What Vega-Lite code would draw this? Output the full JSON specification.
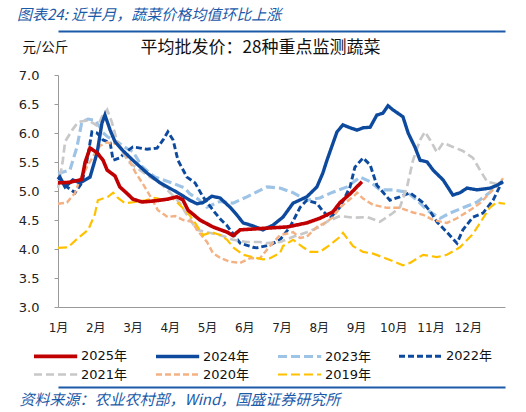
{
  "$schema": "https://vega.github.io/schema/vega-lite/v6.json",
  "width": 447,
  "height": 232,
  "autosize": "none",
  "padding": {"left": 58, "top": 75, "right": 21, "bottom": 105},
  "background": "white",
  "config": {
    "view": {"stroke": null},
    "font": "DejaVu Sans, Noto Sans CJK SC"
  },
  "title": {
    "text": "图表24: 近半月，蔬菜价格均值环比上涨",
    "anchor": "start",
    "frame": "group",
    "dx": -41,
    "offset": 8,
    "font": "Noto Sans CJK SC",
    "fontSize": 15,
    "fontStyle": "italic",
    "fontWeight": "normal",
    "color": "#1c5aa8"
  },
  "data": {"values": [
    {"year": "2025年", "m": 0, "v": 5.14}, {"year": "2025年", "m": 0.32, "v": 5.15}, {"year": "2025年", "m": 0.64, "v": 5.2},
    {"year": "2025年", "m": 0.73, "v": 5.5}, {"year": "2025年", "m": 0.86, "v": 5.74}, {"year": "2025年", "m": 1.05, "v": 5.66},
    {"year": "2025年", "m": 1.21, "v": 5.53}, {"year": "2025年", "m": 1.32, "v": 5.36}, {"year": "2025年", "m": 1.53, "v": 5.26},
    {"year": "2025年", "m": 1.66, "v": 5.07}, {"year": "2025年", "m": 1.85, "v": 4.96}, {"year": "2025年", "m": 2.01, "v": 4.86},
    {"year": "2025年", "m": 2.26, "v": 4.81}, {"year": "2025年", "m": 2.6, "v": 4.83}, {"year": "2025年", "m": 2.95, "v": 4.86},
    {"year": "2025年", "m": 3.19, "v": 4.9}, {"year": "2025年", "m": 3.35, "v": 4.85}, {"year": "2025年", "m": 3.49, "v": 4.67},
    {"year": "2025年", "m": 3.81, "v": 4.5}, {"year": "2025年", "m": 4.16, "v": 4.38}, {"year": "2025年", "m": 4.54, "v": 4.29},
    {"year": "2025年", "m": 4.7, "v": 4.23}, {"year": "2025年", "m": 4.89, "v": 4.33}, {"year": "2025年", "m": 5.61, "v": 4.36},
    {"year": "2025年", "m": 6.15, "v": 4.38}, {"year": "2025年", "m": 6.68, "v": 4.45}, {"year": "2025年", "m": 7.03, "v": 4.53},
    {"year": "2025年", "m": 7.38, "v": 4.64}, {"year": "2025年", "m": 7.57, "v": 4.8}, {"year": "2025年", "m": 7.84, "v": 4.95},
    {"year": "2025年", "m": 8.16, "v": 5.16},

    {"year": "2024年", "m": 0, "v": 5.2}, {"year": "2024年", "m": 0.05, "v": 5.24}, {"year": "2024年", "m": 0.19, "v": 5.07},
    {"year": "2024年", "m": 0.4, "v": 5.19}, {"year": "2024年", "m": 0.59, "v": 5.14}, {"year": "2024年", "m": 0.86, "v": 5.24},
    {"year": "2024年", "m": 1.05, "v": 5.66}, {"year": "2024年", "m": 1.18, "v": 6.17}, {"year": "2024年", "m": 1.26, "v": 6.31},
    {"year": "2024年", "m": 1.4, "v": 6.05}, {"year": "2024年", "m": 1.53, "v": 5.85}, {"year": "2024年", "m": 1.72, "v": 5.71},
    {"year": "2024年", "m": 2.01, "v": 5.53}, {"year": "2024年", "m": 2.39, "v": 5.31}, {"year": "2024年", "m": 2.74, "v": 5.14},
    {"year": "2024年", "m": 3.19, "v": 4.98}, {"year": "2024年", "m": 3.54, "v": 4.84}, {"year": "2024年", "m": 3.73, "v": 4.78},
    {"year": "2024年", "m": 3.89, "v": 4.8}, {"year": "2024年", "m": 4.13, "v": 4.91}, {"year": "2024年", "m": 4.35, "v": 4.88},
    {"year": "2024年", "m": 4.62, "v": 4.72}, {"year": "2024年", "m": 4.81, "v": 4.58}, {"year": "2024年", "m": 4.97, "v": 4.45},
    {"year": "2024年", "m": 5.23, "v": 4.4}, {"year": "2024年", "m": 5.5, "v": 4.33}, {"year": "2024年", "m": 5.77, "v": 4.41},
    {"year": "2024年", "m": 6.04, "v": 4.55}, {"year": "2024年", "m": 6.31, "v": 4.79}, {"year": "2024年", "m": 6.68, "v": 4.9},
    {"year": "2024年", "m": 6.95, "v": 5.07}, {"year": "2024年", "m": 7.11, "v": 5.31}, {"year": "2024年", "m": 7.22, "v": 5.53},
    {"year": "2024年", "m": 7.49, "v": 6.02}, {"year": "2024年", "m": 7.65, "v": 6.14}, {"year": "2024年", "m": 7.84, "v": 6.09},
    {"year": "2024年", "m": 8.03, "v": 6.05}, {"year": "2024年", "m": 8.19, "v": 6.09}, {"year": "2024年", "m": 8.38, "v": 6.1},
    {"year": "2024年", "m": 8.56, "v": 6.31}, {"year": "2024年", "m": 8.72, "v": 6.34}, {"year": "2024年", "m": 8.86, "v": 6.47},
    {"year": "2024年", "m": 8.99, "v": 6.4}, {"year": "2024年", "m": 9.26, "v": 6.28}, {"year": "2024年", "m": 9.4, "v": 6.0},
    {"year": "2024年", "m": 9.58, "v": 5.76}, {"year": "2024年", "m": 9.72, "v": 5.53}, {"year": "2024年", "m": 9.91, "v": 5.5},
    {"year": "2024年", "m": 10.07, "v": 5.36}, {"year": "2024年", "m": 10.34, "v": 5.19}, {"year": "2024年", "m": 10.6, "v": 4.93},
    {"year": "2024年", "m": 10.79, "v": 4.97}, {"year": "2024年", "m": 10.98, "v": 5.05}, {"year": "2024年", "m": 11.25, "v": 5.02},
    {"year": "2024年", "m": 11.6, "v": 5.05}, {"year": "2024年", "m": 11.79, "v": 5.1}, {"year": "2024年", "m": 11.95, "v": 5.16},

    {"year": "2023年", "m": 0, "v": 5.3}, {"year": "2023年", "m": 0.32, "v": 5.36}, {"year": "2023年", "m": 0.51, "v": 5.76},
    {"year": "2023年", "m": 0.64, "v": 6.19}, {"year": "2023年", "m": 0.81, "v": 6.24}, {"year": "2023年", "m": 0.99, "v": 6.22},
    {"year": "2023年", "m": 1.13, "v": 6.1}, {"year": "2023年", "m": 1.18, "v": 6.02}, {"year": "2023年", "m": 1.34, "v": 5.93},
    {"year": "2023年", "m": 1.61, "v": 5.84}, {"year": "2023年", "m": 1.88, "v": 5.72}, {"year": "2023年", "m": 2.01, "v": 5.68},
    {"year": "2023年", "m": 2.26, "v": 5.42}, {"year": "2023年", "m": 2.6, "v": 5.24}, {"year": "2023年", "m": 3.06, "v": 5.14},
    {"year": "2023年", "m": 3.41, "v": 5.05}, {"year": "2023年", "m": 3.54, "v": 4.95}, {"year": "2023年", "m": 3.76, "v": 4.86},
    {"year": "2023年", "m": 4.0, "v": 4.72}, {"year": "2023年", "m": 4.35, "v": 4.82}, {"year": "2023年", "m": 4.7, "v": 4.79},
    {"year": "2023年", "m": 5.07, "v": 4.9}, {"year": "2023年", "m": 5.61, "v": 5.07}, {"year": "2023年", "m": 5.96, "v": 5.05},
    {"year": "2023年", "m": 6.31, "v": 4.97}, {"year": "2023年", "m": 6.68, "v": 4.84}, {"year": "2023年", "m": 7.03, "v": 4.88},
    {"year": "2023年", "m": 7.38, "v": 4.98}, {"year": "2023年", "m": 7.76, "v": 5.07}, {"year": "2023年", "m": 8.11, "v": 5.24},
    {"year": "2023年", "m": 8.38, "v": 5.16}, {"year": "2023年", "m": 8.64, "v": 5.02}, {"year": "2023年", "m": 8.99, "v": 5.02},
    {"year": "2023年", "m": 9.37, "v": 4.98}, {"year": "2023年", "m": 9.64, "v": 4.84}, {"year": "2023年", "m": 9.91, "v": 4.67},
    {"year": "2023年", "m": 10.26, "v": 4.53}, {"year": "2023年", "m": 10.52, "v": 4.62}, {"year": "2023年", "m": 10.87, "v": 4.71},
    {"year": "2023年", "m": 11.25, "v": 4.81}, {"year": "2023年", "m": 11.6, "v": 4.98}, {"year": "2023年", "m": 11.95, "v": 5.19},

    {"year": "2022年", "m": 0, "v": 5.2}, {"year": "2022年", "m": 0.05, "v": 5.19}, {"year": "2022年", "m": 0.24, "v": 5.07},
    {"year": "2022年", "m": 0.46, "v": 4.97}, {"year": "2022年", "m": 0.64, "v": 5.14}, {"year": "2022年", "m": 0.78, "v": 5.53},
    {"year": "2022年", "m": 0.91, "v": 6.02}, {"year": "2022年", "m": 1.05, "v": 6.0}, {"year": "2022年", "m": 1.21, "v": 5.88},
    {"year": "2022年", "m": 1.4, "v": 5.83}, {"year": "2022年", "m": 1.48, "v": 5.53}, {"year": "2022年", "m": 1.66, "v": 5.57},
    {"year": "2022年", "m": 1.8, "v": 5.66}, {"year": "2022年", "m": 2.01, "v": 5.76}, {"year": "2022年", "m": 2.39, "v": 5.72},
    {"year": "2022年", "m": 2.66, "v": 5.74}, {"year": "2022年", "m": 2.82, "v": 5.88}, {"year": "2022年", "m": 2.95, "v": 6.02},
    {"year": "2022年", "m": 3.09, "v": 5.88}, {"year": "2022年", "m": 3.22, "v": 5.53}, {"year": "2022年", "m": 3.46, "v": 5.24},
    {"year": "2022年", "m": 3.68, "v": 5.14}, {"year": "2022年", "m": 3.89, "v": 4.9}, {"year": "2022年", "m": 4.16, "v": 4.67},
    {"year": "2022年", "m": 4.35, "v": 4.52}, {"year": "2022年", "m": 4.54, "v": 4.4}, {"year": "2022年", "m": 4.89, "v": 4.1},
    {"year": "2022年", "m": 5.23, "v": 4.03}, {"year": "2022年", "m": 5.34, "v": 4.02}, {"year": "2022年", "m": 5.69, "v": 4.07},
    {"year": "2022年", "m": 5.96, "v": 4.16}, {"year": "2022年", "m": 6.23, "v": 4.38}, {"year": "2022年", "m": 6.5, "v": 4.72},
    {"year": "2022年", "m": 6.68, "v": 4.84}, {"year": "2022年", "m": 6.95, "v": 4.79}, {"year": "2022年", "m": 7.09, "v": 4.67},
    {"year": "2022年", "m": 7.3, "v": 4.53}, {"year": "2022年", "m": 7.57, "v": 4.72}, {"year": "2022年", "m": 7.84, "v": 5.07},
    {"year": "2022年", "m": 7.97, "v": 5.41}, {"year": "2022年", "m": 8.19, "v": 5.57}, {"year": "2022年", "m": 8.38, "v": 5.45},
    {"year": "2022年", "m": 8.56, "v": 5.1}, {"year": "2022年", "m": 8.91, "v": 4.84}, {"year": "2022年", "m": 9.18, "v": 4.9},
    {"year": "2022年", "m": 9.45, "v": 4.97}, {"year": "2022年", "m": 9.8, "v": 4.8}, {"year": "2022年", "m": 9.99, "v": 4.65},
    {"year": "2022年", "m": 10.17, "v": 4.47}, {"year": "2022年", "m": 10.44, "v": 4.29}, {"year": "2022年", "m": 10.71, "v": 4.1},
    {"year": "2022年", "m": 10.87, "v": 4.33}, {"year": "2022年", "m": 11.14, "v": 4.55}, {"year": "2022年", "m": 11.41, "v": 4.62},
    {"year": "2022年", "m": 11.68, "v": 4.84}, {"year": "2022年", "m": 11.92, "v": 5.16},

    {"year": "2021年", "m": 0, "v": 5.05}, {"year": "2021年", "m": 0.13, "v": 5.53}, {"year": "2021年", "m": 0.19, "v": 5.85},
    {"year": "2021年", "m": 0.38, "v": 6.05}, {"year": "2021年", "m": 0.54, "v": 6.19}, {"year": "2021年", "m": 0.81, "v": 6.22},
    {"year": "2021年", "m": 1.07, "v": 6.12}, {"year": "2021年", "m": 1.18, "v": 6.28}, {"year": "2021年", "m": 1.32, "v": 6.4},
    {"year": "2021年", "m": 1.45, "v": 6.18}, {"year": "2021年", "m": 1.58, "v": 5.87}, {"year": "2021年", "m": 1.74, "v": 5.66},
    {"year": "2021年", "m": 1.93, "v": 5.48}, {"year": "2021年", "m": 2.2, "v": 5.36}, {"year": "2021年", "m": 2.47, "v": 5.24},
    {"year": "2021年", "m": 2.74, "v": 5.14}, {"year": "2021年", "m": 3.01, "v": 4.97}, {"year": "2021年", "m": 3.28, "v": 4.79},
    {"year": "2021年", "m": 3.41, "v": 4.64}, {"year": "2021年", "m": 3.73, "v": 4.33}, {"year": "2021年", "m": 4.0, "v": 4.29},
    {"year": "2021年", "m": 4.35, "v": 4.24}, {"year": "2021年", "m": 4.7, "v": 4.16}, {"year": "2021年", "m": 5.07, "v": 4.12},
    {"year": "2021年", "m": 5.42, "v": 4.12}, {"year": "2021年", "m": 5.61, "v": 4.1}, {"year": "2021年", "m": 5.96, "v": 4.12},
    {"year": "2021年", "m": 6.31, "v": 4.21}, {"year": "2021年", "m": 6.68, "v": 4.29}, {"year": "2021年", "m": 7.03, "v": 4.38},
    {"year": "2021年", "m": 7.22, "v": 4.47}, {"year": "2021年", "m": 7.57, "v": 4.57}, {"year": "2021年", "m": 7.92, "v": 4.54},
    {"year": "2021年", "m": 8.3, "v": 4.55}, {"year": "2021年", "m": 8.64, "v": 4.47}, {"year": "2021年", "m": 8.99, "v": 4.62},
    {"year": "2021年", "m": 9.18, "v": 4.72}, {"year": "2021年", "m": 9.37, "v": 5.07}, {"year": "2021年", "m": 9.53, "v": 5.53},
    {"year": "2021年", "m": 9.72, "v": 5.88}, {"year": "2021年", "m": 9.85, "v": 6.02}, {"year": "2021年", "m": 9.99, "v": 5.88},
    {"year": "2021年", "m": 10.17, "v": 5.67}, {"year": "2021年", "m": 10.34, "v": 5.83}, {"year": "2021年", "m": 10.6, "v": 5.76},
    {"year": "2021年", "m": 10.87, "v": 5.69}, {"year": "2021年", "m": 11.14, "v": 5.57}, {"year": "2021年", "m": 11.33, "v": 5.36},
    {"year": "2021年", "m": 11.52, "v": 5.16}, {"year": "2021年", "m": 11.79, "v": 5.12}, {"year": "2021年", "m": 11.95, "v": 5.15},

    {"year": "2020年", "m": 0, "v": 4.78}, {"year": "2020年", "m": 0.24, "v": 4.8}, {"year": "2020年", "m": 0.46, "v": 4.97},
    {"year": "2020年", "m": 0.59, "v": 5.2}, {"year": "2020年", "m": 0.81, "v": 5.45}, {"year": "2020年", "m": 0.99, "v": 5.65},
    {"year": "2020年", "m": 1.13, "v": 5.78}, {"year": "2020年", "m": 1.32, "v": 5.84}, {"year": "2020年", "m": 1.48, "v": 5.8},
    {"year": "2020年", "m": 1.58, "v": 5.85}, {"year": "2020年", "m": 1.72, "v": 5.72}, {"year": "2020年", "m": 1.88, "v": 5.57},
    {"year": "2020年", "m": 2.07, "v": 5.33}, {"year": "2020年", "m": 2.3, "v": 5.1}, {"year": "2020年", "m": 2.52, "v": 4.86},
    {"year": "2020年", "m": 2.68, "v": 4.67}, {"year": "2020年", "m": 2.95, "v": 4.55}, {"year": "2020年", "m": 3.14, "v": 4.57},
    {"year": "2020年", "m": 3.36, "v": 4.5}, {"year": "2020年", "m": 3.6, "v": 4.47}, {"year": "2020年", "m": 3.73, "v": 4.33},
    {"year": "2020年", "m": 4.0, "v": 4.12}, {"year": "2020年", "m": 4.16, "v": 3.93}, {"year": "2020年", "m": 4.35, "v": 3.85},
    {"year": "2020年", "m": 4.62, "v": 3.78}, {"year": "2020年", "m": 4.89, "v": 3.76}, {"year": "2020年", "m": 5.15, "v": 3.84},
    {"year": "2020年", "m": 5.42, "v": 3.84}, {"year": "2020年", "m": 5.69, "v": 4.05}, {"year": "2020年", "m": 5.96, "v": 4.24},
    {"year": "2020年", "m": 6.31, "v": 4.29}, {"year": "2020年", "m": 6.5, "v": 4.19}, {"year": "2020年", "m": 6.68, "v": 4.21},
    {"year": "2020年", "m": 6.95, "v": 4.38}, {"year": "2020年", "m": 7.22, "v": 4.47}, {"year": "2020年", "m": 7.38, "v": 4.55},
    {"year": "2020年", "m": 7.57, "v": 4.71}, {"year": "2020年", "m": 7.76, "v": 4.82}, {"year": "2020年", "m": 7.92, "v": 4.9},
    {"year": "2020年", "m": 8.03, "v": 4.97}, {"year": "2020年", "m": 8.19, "v": 4.87}, {"year": "2020年", "m": 8.46, "v": 4.76},
    {"year": "2020年", "m": 8.83, "v": 4.71}, {"year": "2020年", "m": 9.18, "v": 4.71}, {"year": "2020年", "m": 9.53, "v": 4.63},
    {"year": "2020年", "m": 9.8, "v": 4.59}, {"year": "2020年", "m": 10.07, "v": 4.5}, {"year": "2020年", "m": 10.44, "v": 4.45},
    {"year": "2020年", "m": 10.71, "v": 4.53}, {"year": "2020年", "m": 11.06, "v": 4.67}, {"year": "2020年", "m": 11.33, "v": 4.79},
    {"year": "2020年", "m": 11.6, "v": 4.97}, {"year": "2020年", "m": 11.87, "v": 5.16}, {"year": "2020年", "m": 11.95, "v": 5.22},

    {"year": "2019年", "m": 0, "v": 4.02}, {"year": "2019年", "m": 0.27, "v": 4.03}, {"year": "2019年", "m": 0.54, "v": 4.19},
    {"year": "2019年", "m": 0.81, "v": 4.33}, {"year": "2019年", "m": 0.99, "v": 4.6}, {"year": "2019年", "m": 1.07, "v": 4.84},
    {"year": "2019年", "m": 1.34, "v": 4.9}, {"year": "2019年", "m": 1.48, "v": 4.97}, {"year": "2019年", "m": 1.61, "v": 4.88},
    {"year": "2019年", "m": 1.8, "v": 4.79}, {"year": "2019年", "m": 2.07, "v": 4.81}, {"year": "2019年", "m": 2.34, "v": 4.84},
    {"year": "2019年", "m": 2.6, "v": 4.88}, {"year": "2019年", "m": 2.87, "v": 4.84}, {"year": "2019年", "m": 3.06, "v": 4.88},
    {"year": "2019年", "m": 3.22, "v": 4.79}, {"year": "2019年", "m": 3.49, "v": 4.62}, {"year": "2019年", "m": 3.68, "v": 4.45},
    {"year": "2019年", "m": 3.89, "v": 4.24}, {"year": "2019年", "m": 4.13, "v": 4.29}, {"year": "2019年", "m": 4.35, "v": 4.24},
    {"year": "2019年", "m": 4.54, "v": 4.16}, {"year": "2019年", "m": 4.7, "v": 4.03}, {"year": "2019年", "m": 4.97, "v": 3.9},
    {"year": "2019年", "m": 5.23, "v": 3.86}, {"year": "2019年", "m": 5.5, "v": 3.82}, {"year": "2019年", "m": 5.69, "v": 3.84},
    {"year": "2019年", "m": 5.96, "v": 3.93}, {"year": "2019年", "m": 6.04, "v": 4.05}, {"year": "2019年", "m": 6.31, "v": 4.16},
    {"year": "2019年", "m": 6.58, "v": 4.03}, {"year": "2019年", "m": 6.77, "v": 3.95}, {"year": "2019年", "m": 7.03, "v": 3.95},
    {"year": "2019年", "m": 7.3, "v": 4.07}, {"year": "2019年", "m": 7.57, "v": 4.21}, {"year": "2019年", "m": 7.65, "v": 4.28},
    {"year": "2019年", "m": 7.92, "v": 4.05}, {"year": "2019年", "m": 8.19, "v": 3.95}, {"year": "2019年", "m": 8.46, "v": 3.92},
    {"year": "2019年", "m": 8.91, "v": 3.81}, {"year": "2019年", "m": 9.26, "v": 3.72}, {"year": "2019年", "m": 9.45, "v": 3.76},
    {"year": "2019年", "m": 9.8, "v": 3.9}, {"year": "2019年", "m": 10.17, "v": 3.86}, {"year": "2019年", "m": 10.44, "v": 3.9},
    {"year": "2019年", "m": 10.79, "v": 4.03}, {"year": "2019年", "m": 11.14, "v": 4.26}, {"year": "2019年", "m": 11.38, "v": 4.5},
    {"year": "2019年", "m": 11.6, "v": 4.72}, {"year": "2019年", "m": 11.79, "v": 4.81}, {"year": "2019年", "m": 11.87, "v": 4.79},
    {"year": "2019年", "m": 12.0, "v": 4.78}
  ]},
  "encoding": {
    "y": {
      "field": "v",
      "type": "quantitative",
      "scale": {"domain": [3, 7], "nice": false, "zero": false},
      "axis": {
        "title": "元/公斤",
        "titleAngle": 0,
        "titleAlign": "left",
        "titleBaseline": "middle",
        "titleX": -36,
        "titleY": -28,
        "titleFont": "Noto Sans CJK SC",
        "titleFontSize": 13.5,
        "titleFontWeight": "normal",
        "titleColor": "#111",
        "values": [3, 3.5, 4, 4.5, 5, 5.5, 6, 6.5, 7],
        "format": ".1f",
        "grid": false,
        "domainColor": "#9a9a9a",
        "tickColor": "#9a9a9a",
        "tickSize": 4,
        "labelPadding": 15,
        "labelFontSize": 13,
        "labelColor": "#222"
      }
    },
    "color": {
      "field": "year",
      "type": "nominal",
      "scale": {
        "domain": ["2025年", "2024年", "2023年", "2022年", "2021年", "2020年", "2019年"],
        "range": ["#c00000", "#0d4a9e", "#9dc3e6", "#0d4a9e", "#c8c8c8", "#f4b183", "#ffc000"]
      },
      "legend": {
        "title": null,
        "orient": "none",
        "legendX": -26,
        "legendY": 271,
        "direction": "horizontal",
        "columns": 4,
        "columnPadding": 21,
        "rowPadding": 1,
        "padding": 0,
        "symbolType": "M-1,0H4.4",
        "symbolSize": 256,
        "symbolStrokeWidth": 3.5,
        "labelOffset": 29,
        "labelFontSize": 13,
        "labelColor": "#111",
        "labelLimit": 0
      }
    },
    "strokeDash": {
      "field": "year",
      "type": "nominal",
      "scale": {
        "domain": ["2025年", "2024年", "2023年", "2022年", "2021年", "2020年", "2019年"],
        "range": [[1, 0], [1, 0], [9, 4], [6, 3], [8, 4], [6, 3], [9, 4]]
      },
      "legend": {
        "title": null,
        "orient": "none",
        "legendX": -26,
        "legendY": 271,
        "direction": "horizontal",
        "columns": 4,
        "columnPadding": 21,
        "rowPadding": 1,
        "padding": 0,
        "symbolType": "M-1,0H4.4",
        "symbolSize": 256,
        "symbolStrokeWidth": 3.5,
        "labelOffset": 29,
        "labelFontSize": 13,
        "labelColor": "#111",
        "labelLimit": 0
      }
    },
    "strokeWidth": {
      "field": "year",
      "type": "nominal",
      "scale": {
        "domain": ["2025年", "2024年", "2023年", "2022年", "2021年", "2020年", "2019年"],
        "range": [3.6, 2.2, 2.6, 2.4, 2.6, 2.4, 2.6]
      },
      "legend": null
    }
  },
  "layer": [
    {
      "transform": [{"filter": "datum.year != '2025年' && datum.year != '2024年'"}],
      "mark": {"type": "line"},
      "encoding": {
        "x": {
          "field": "m",
          "type": "quantitative",
          "scale": {"domain": [0, 12], "nice": false, "zero": false},
          "axis": {
            "title": null,
            "values": [0, 1, 2, 3, 4, 5, 6, 7, 8, 9, 10, 11],
            "labelExpr": "(datum.value + 1) + '月'",
            "grid": false,
            "ticks": false,
            "domainColor": "#9a9a9a",
            "labelPadding": 15,
            "labelFontSize": 12,
            "labelColor": "#222",
            "labelFlush": false
          }
        }
      }
    },
    {
      "transform": [{"filter": "datum.year == '2024年'"}],
      "mark": {"type": "line"},
      "encoding": {
        "x": {
          "field": "m",
          "type": "quantitative",
          "scale": {"domain": [0, 12], "nice": false, "zero": false},
          "axis": {
            "orient": "top",
            "offset": 44,
            "labels": false,
            "ticks": false,
            "grid": false,
            "domainColor": "#1c5aa8",
            "domainWidth": 2.2,
            "title": "平均批发价：28种重点监测蔬菜",
            "titleFont": "Noto Sans CJK SC",
            "titleFontSize": 17,
            "titleFontWeight": "normal",
            "titleColor": "#111",
            "titleAlign": "center",
            "titleBaseline": "middle",
            "titleX": 202,
            "titleY": 16
          }
        }
      }
    },
    {
      "transform": [{"filter": "datum.year == '2025年'"}],
      "mark": {"type": "line"},
      "encoding": {
        "x": {
          "field": "m",
          "type": "quantitative",
          "scale": {"domain": [0, 12], "nice": false, "zero": false},
          "axis": {
            "orient": "bottom",
            "offset": 80,
            "labels": false,
            "ticks": false,
            "grid": false,
            "domainColor": "#1c5aa8",
            "domainWidth": 2.2,
            "title": "资料来源：农业农村部，Wind，国盛证券研究所",
            "titleFont": "Noto Sans CJK SC",
            "titleFontSize": 15,
            "titleFontWeight": "normal",
            "titleFontStyle": "italic",
            "titleColor": "#1c5aa8",
            "titleAlign": "left",
            "titleBaseline": "middle",
            "titleX": -39,
            "titleY": 12
          }
        }
      }
    }
  ],
  "resolve": {"axis": {"x": "independent"}}
}
